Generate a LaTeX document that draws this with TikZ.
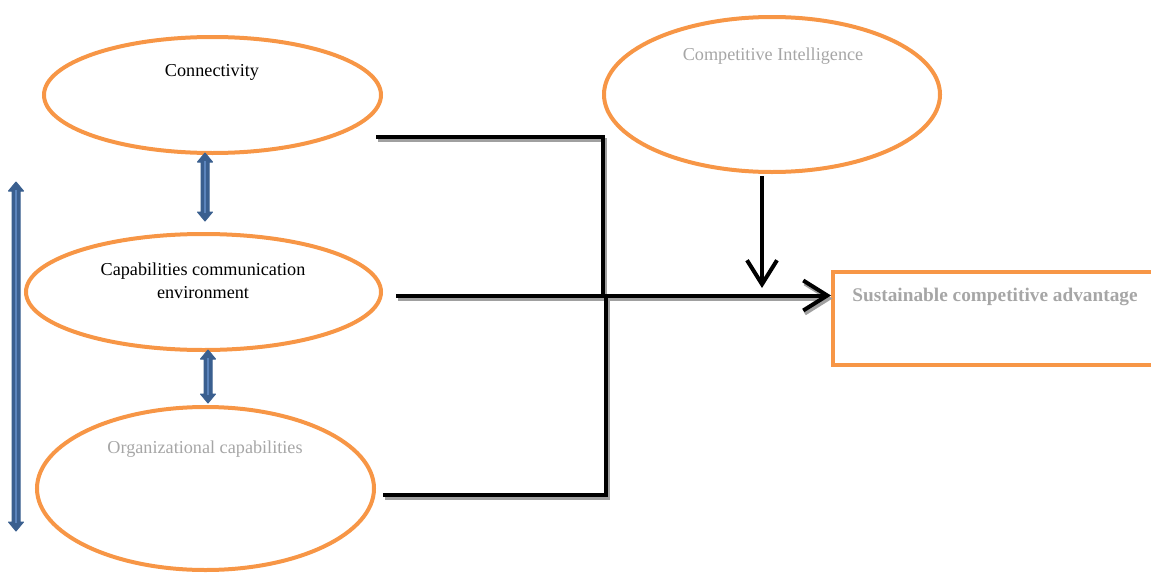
\documentclass[tikz,border=0pt]{standalone}
\usepackage{fontspec}
\setmainfont{Liberation Serif}
\usetikzlibrary{shapes.geometric,arrows.meta,calc}
\definecolor{orng}{HTML}{F79646}
\definecolor{blu}{HTML}{3A5F8F}
\definecolor{bluhi}{HTML}{5B84BC}
\definecolor{txtgray}{HTML}{A6A6A6}
\definecolor{shad}{HTML}{A0A0A0}
\begin{document}
\begin{tikzpicture}[x=1pt,y=-1pt,
  oval/.style={ellipse, draw=orng, line width=4pt, inner sep=0pt},
  boxnode/.style={rectangle, draw=orng, line width=4pt, inner sep=0pt},
  lbl/.style={font=\fontsize{18.2}{23}\selectfont, align=center, inner sep=0pt},
  graylbl/.style={lbl, text=txtgray},
  conn/.style={line width=4pt, black},
  connshadow/.style={line width=4pt, shad},
  barb/.style={-{Straight Barb[length=24pt,width=30pt]}},
  dblfill/.style={fill=blu, draw=blu, line width=1pt, line join=round},
  hiline/.style={bluhi, line width=1.2pt}
]
\useasboundingbox (0,0) rectangle (1151,573);
\clip (0,0) rectangle (1151,573);

% ovals
\node[oval, minimum width=337pt, minimum height=116pt] (connect) at (212.5,95) {};
\node[oval, minimum width=355pt, minimum height=116pt] (capcom) at (203.5,292) {};
\node[oval, minimum width=337pt, minimum height=163pt] (orgcap) at (205.5,488.5) {};
\node[oval, minimum width=336pt, minimum height=155pt] (compint) at (772,94.5) {};
\node[boxnode, minimum width=330pt, minimum height=93pt, anchor=north west] (sca) at (831,270) {};

% labels
\node[lbl] (tconnect) at (212,72.5) {Connectivity};
\node[lbl] (tcapcom) at (203,280.5) {Capabilities communication\\environment};
\node[graylbl] (torgcap) at (205,449.5) {Organizational capabilities};
\node[graylbl] (tcompint) at (773,56.5) {Competitive Intelligence};
\node[graylbl, font=\fontsize{19.3}{23}\selectfont\bfseries] (tsca) at (995,296.5) {Sustainable competitive advantage};

% connector coordinates
\coordinate (a1) at (376,137);
\coordinate (a2) at (603,137);
\coordinate (a3) at (603,297);
\coordinate (b1) at (396,295.5);
\coordinate (b2) at (sca.west |- b1);
\coordinate (c1) at (383,495);
\coordinate (c2) at (606,495);
\coordinate (c3) at (606,295);
\coordinate (d1) at (762,176);
\coordinate (d2) at (762,288);
\coordinate (e1) at (205,153);
\coordinate (e2) at (205,221);
\coordinate (f1) at (208,350);
\coordinate (f2) at (208,403);
\coordinate (g1) at (16,182);
\coordinate (g2) at (16,531);

% shadows
\begin{scope}[transform canvas={shift={(1.5pt,-3pt)}}]
\draw[connshadow] (a1) -- (a2) -- (a3);
\draw[connshadow] (c1) -- (c2) -- (c3);
\draw[connshadow, barb] (b1) -- (b2);
\end{scope}

% black connectors
\draw[conn] (a1) -- (a2) -- (a3);
\draw[conn] (c1) -- (c2) -- (c3);
\draw[conn, barb] (b1) -- (b2);
\draw[conn, barb] (d1) -- (d2);

% blue double arrows
\foreach \p/\q in {e1/e2, f1/f2, g1/g2}{
  \draw[dblfill] (\p) -- ++(7.5,9) -- ++(-3.5,0) -- ($(\q)+(4,-9)$) -- ++(3.5,0) -- (\q)
     -- ++(-7.5,-9) -- ++(3.5,0) -- ($(\p)+(-4,9)$) -- ++(-3.5,0) -- cycle;
  \draw[hiline] ($(\p)+(0,8)$) -- ($(\q)+(0,-8)$);
}
\end{tikzpicture}
\end{document}
